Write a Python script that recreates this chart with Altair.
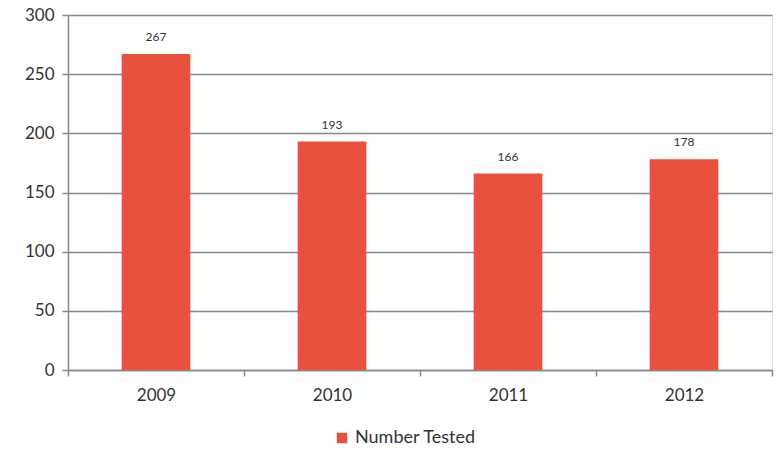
import altair as alt
import pandas as pd

years = ["2009", "2010", "2011", "2012"]
tested = [267, 193, 166, 178]
series = ["Number Tested"] * 4

df = pd.DataFrame({"year": years, "value": tested, "series": series})

FONT = "Lato"
BAR = "#E8513D"

x = alt.X("year:N", title=None, sort=years,
          scale=alt.Scale(paddingInner=0, paddingOuter=0),
          axis=alt.Axis(labelAngle=0, labelFontSize=17, labelColor="#333333",
                        labelFont=FONT, labelPadding=11, tickBand="extent",
                        tickSize=6, tickColor="#888888", domainColor="#888888",
                        domainWidth=1.5, tickWidth=1.5))
y = alt.Y("value:Q", title=None,
          scale=alt.Scale(domain=[0, 300]),
          axis=alt.Axis(values=[0, 50, 100, 150, 200, 250, 300], labelFontSize=17,
                        labelColor="#333333", labelFont=FONT, labelPadding=8,
                        tickSize=6, tickColor="#888888", domainColor="#888888",
                        domainWidth=1.5, tickWidth=1.5, gridColor="#888888",
                        gridWidth=1.5))

bars = alt.Chart(df).mark_bar(color=BAR, width=alt.RelativeBandSize(0.39)).encode(
    x=x, y=y,
    color=alt.Color("series:N", title=None,
                    scale=alt.Scale(range=[BAR]),
                    legend=alt.Legend(orient="none", legendX=265, legendY=414,
                                      symbolType="square", symbolSize=110,
                                      symbolStrokeWidth=0, labelFontSize=18,
                                      labelFont=FONT, labelColor="#333333",
                                      labelOffset=4)),
)

labels = alt.Chart(df).mark_text(dy=-17, fontSize=12, font=FONT, color="#333333").encode(
    x=alt.X("year:N", sort=years), y="value:Q", text="value:Q"
)

chart = (bars + labels).properties(
    width=704, height=355,
    autosize=alt.AutoSizeParams(type="none"),
    padding={"left": 68, "top": 15, "right": 12, "bottom": 95},
).configure_view(stroke=None).configure(background="white")

chart.save("out.html", embed_options={"renderer": "svg", "actions": False})
